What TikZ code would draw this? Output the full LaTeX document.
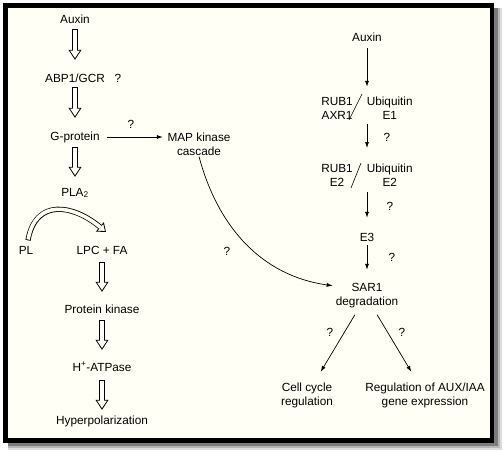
\documentclass[tikz,border=0pt]{standalone}
\usepackage{fontspec}
\setmainfont{Liberation Sans}
\usepackage{tikz}
\usetikzlibrary{calc,arrows.meta,positioning}
\definecolor{paperCream}{RGB}{255,255,245}
\definecolor{shadeGray}{RGB}{110,110,110}
\tikzset{
  lbl/.style={inner sep=1pt, text height=8.5pt, text depth=2.5pt},
  lbl2/.style={inner sep=1pt, align=center},
  flow/.style={line width=0.7pt, -{Latex[length=6pt,width=4pt]}},
  hollow/.style 2 args={line width=6.4pt, -{Triangle[open,width=13pt,length=10pt,line width=0.8pt]}, shorten <=#1, shorten >=#2},
  hollowin/.style 2 args={draw=paperCream, line width=4.8pt, shorten <=#1+0.8pt, shorten >=#2+9pt},
}
\newcommand{\fatarrow}[4]{%
  \draw[hollow={#3}{#4}] (#1) -- (#2);
  \draw[hollowin={#3}{#4}] (#1) -- (#2);}

\begin{document}
\begin{tikzpicture}[x=1pt,y=1pt,every node/.style={font=\fontsize{11.8}{14}\selectfont}]
\useasboundingbox (0,0) rectangle (503,451);
\fill[shadeGray!25] (8,1) rectangle (501.5,443);
\fill[shadeGray!50] (8,3) rectangle (499.5,443);
\fill[shadeGray!90] (8,5) rectangle (497.5,443);
\draw[line width=4.6pt, fill=paperCream] (5.4,10.6) rectangle (491.8,445.6);

\node[lbl] (auxL) at (75,430) {Auxin};
\node[lbl] (abp) at (75,372) {ABP1/GCR};
\node[lbl] (qabp) at (118,372) {?};
\node[lbl] (gprot) at (75,314) {G-protein};
\node[lbl] (pla) at (75,258) {PLA\textsubscript{2}};
\node[lbl] (pl) at (26,200) {PL};
\node[lbl] (lpc) at (102,200) {LPC + FA};
\node[lbl] (pk) at (102,141) {Protein kinase};
\node[lbl] (atp) at (102,83) {H\textsuperscript{+}-ATPase};
\node[lbl] (hyp) at (102,30) {Hyperpolarization};
\node[lbl2] (map) at (199,307) {MAP kinase\\cascade};
\node[lbl] (qmap) at (131,326) {?};
\node[lbl] (qcurve) at (227,199) {?};

\node[lbl] (auxR) at (367,412) {Auxin};
\node[inner sep=0pt] (rub1) at (367,341.5) {\begin{tabular}{@{}c@{\hspace{14pt}}c@{}}RUB1 & Ubiquitin\\AXR1 & E1\end{tabular}};
\node[inner sep=0pt] (rub2) at (367,274) {\begin{tabular}{@{}c@{\hspace{14pt}}c@{}}RUB1 & Ubiquitin\\E2 & E2\end{tabular}};
\node[lbl] (e3) at (367,213) {E3};
\node[lbl2] (sar) at (367,155) {SAR1\\degradation};
\node[lbl2] (cell) at (307,56) {Cell cycle\\regulation};
\node[lbl2] (reg) at (425,56) {Regulation of AUX/IAA\\gene expression};
\node[lbl] (q1) at (387,313) {?};
\node[lbl] (q2) at (390,244) {?};
\node[lbl] (q3) at (392,193) {?};
\node[lbl] (qcell) at (330,118) {?};
\node[lbl] (qreg) at (402,118) {?};

\draw[line width=0.6pt] ([shift={(-5,15.5)}]rub1.center) -- ([shift={(-18,-10.5)}]rub1.center);
\draw[line width=0.6pt] ([shift={(-6,14)}]rub2.center) -- ([shift={(-16,-11)}]rub2.center);

\fatarrow{auxL.south}{abp.north}{1.5pt}{12.5pt}
\fatarrow{abp.south}{gprot.north}{1.5pt}{12.5pt}
\fatarrow{gprot.south}{pla.north}{3.5pt}{9.5pt}
\fatarrow{lpc.south}{pk.north}{4.5pt}{11.5pt}
\fatarrow{pk.south}{atp.north}{3.5pt}{11.5pt}
\fatarrow{atp.south}{hyp.north}{5.5pt}{4.5pt}

\coordinate (plaTip) at (106,219);
\draw[line width=5.2pt, -{Triangle[open,width=12pt,length=8pt,line width=0.8pt]}] ([shift={(2,4)}]pl.north) to[out=80,in=140,looseness=1.4] (plaTip);
\draw[paperCream, line width=3.6pt, shorten <=0.8pt, shorten >=7pt] ([shift={(2,4)}]pl.north) to[out=80,in=140,looseness=1.4] (plaTip);

\draw[flow, shorten <=6pt, shorten >=3.5pt] (gprot.east) -- (gprot.east -| map.west);
\draw[flow, shorten >=2pt] (map.south) to[out=-75,in=172] ([yshift=10pt]sar.west);

\draw[flow, shorten <=2.5pt, shorten >=8.5pt] (auxR.south) -- (rub1.north);
\draw[flow, shorten >=14.8pt] (rub1.south) -- (rub2.north);
\draw[flow, shorten <=1pt, shorten >=13.5pt] (rub2.south) -- (e3.north);
\draw[flow, shorten >=12.7pt] (e3.south) -- (sar.north);
\draw[flow, shorten <=6pt, shorten >=11pt] ([xshift=-9pt]sar.south) -- ([xshift=8pt]cell.north);
\draw[flow, shorten <=6pt, shorten >=11pt] ([xshift=7pt]sar.south) -- ([xshift=-8pt]reg.north);
\end{tikzpicture}
\end{document}
